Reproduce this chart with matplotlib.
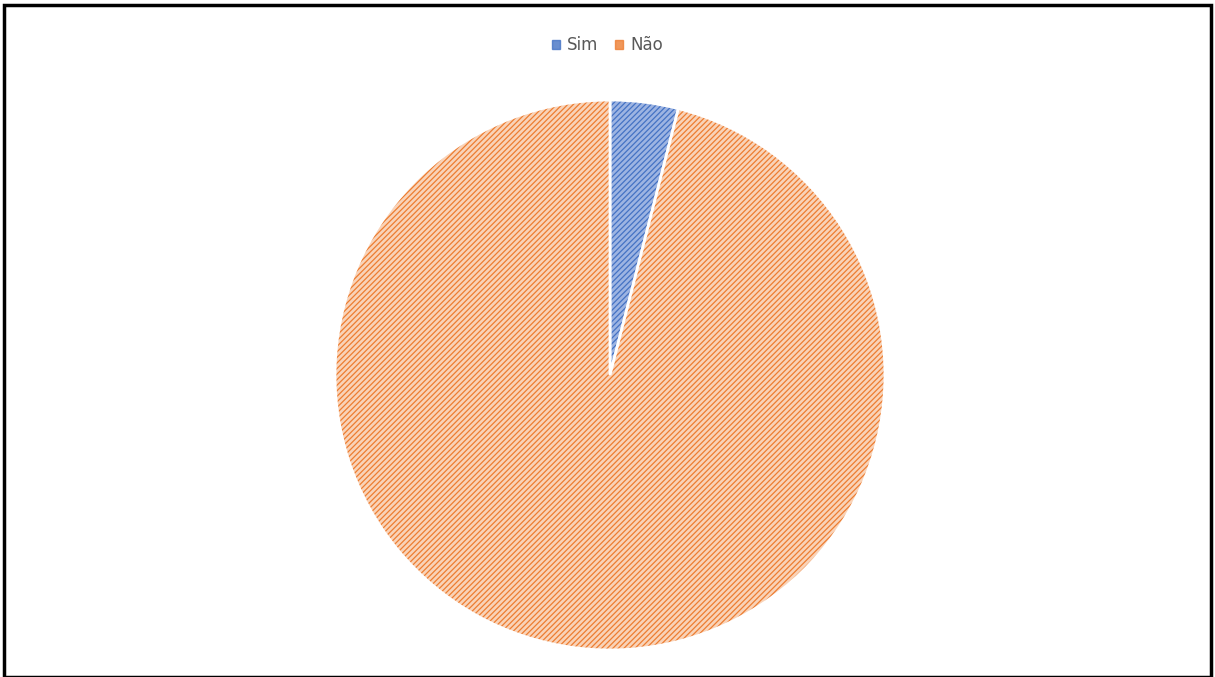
import matplotlib.pyplot as plt
from matplotlib.patches import Rectangle

labels = ['Sim', 'Não']
values = [4, 96]
colors = ['#4472C4', '#ED7D31']
faces = ['#9db4e2', '#f9d3b8']

plt.rcParams['hatch.linewidth'] = 0.9

fig = plt.figure(figsize=(12.15, 6.77), dpi=100)
ax = fig.add_axes([0.2757, 0.0399, 0.4527, 0.8124])

wedges, _ = ax.pie(values, colors=faces, startangle=90, counterclock=False,
                   wedgeprops=dict(edgecolor='white', linewidth=2))
for w, c in zip(wedges, colors):
    w.set_hatch('//////')
    w._hatch_color = plt.matplotlib.colors.to_rgba(c)
ax.set_xlim(-1.0, 1.0)
ax.set_ylim(-1.0, 1.0)
ax.set_aspect('equal')

handles = [plt.Rectangle((0, 0), 1, 1, color=c, alpha=0.8) for c in colors]
fig.legend(handles, labels, loc='center', bbox_to_anchor=(0.5, 0.933), ncol=2,
           frameon=False, fontsize=12, handlelength=0.5, handleheight=0.5,
           columnspacing=1.0, handletextpad=0.4, labelcolor='#595959')

fig.patches.append(Rectangle((0.003, 0.0), 0.994, 0.993, transform=fig.transFigure,
                             fill=False, edgecolor='black', linewidth=2.5))

fig.savefig('out.png', dpi=100)
